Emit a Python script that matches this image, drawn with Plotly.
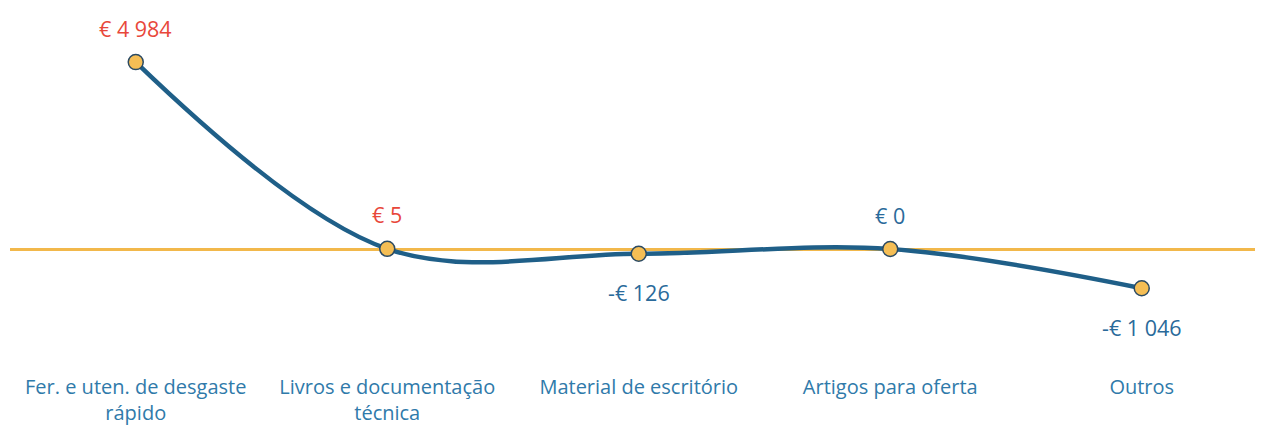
import plotly.graph_objects as go

categories = ["Fer. e uten. de desgaste<br>rápido", "Livros e documentação<br>técnica",
              "Material de escritório", "Artigos para oferta", "Outros"]
values = [4984, 5, -126, 0, -1046]
value_labels = ["€ 4 984", "€ 5", "-€ 126", "€ 0", "-€ 1 046"]
label_colors = ["#E8473A", "#E8473A", "#2A6A9A", "#2A6A9A", "#2A6A9A"]
label_above = [True, True, False, True, False]

FONT = "Open Sans, Lato, sans-serif"

fig = go.Figure()
fig.add_trace(go.Scatter(
    x=list(range(len(categories))), y=values, mode="lines+markers",
    line=dict(color="#1F5F88", width=4.5, shape="spline", smoothing=1.0),
    marker=dict(size=15, color="#F5BE55", line=dict(color="#2B4A63", width=1.5)),
    hoverinfo="skip", showlegend=False,
))

for i, (v, t, c, up) in enumerate(zip(values, value_labels, label_colors, label_above)):
    fig.add_annotation(x=i, y=v, text=t, showarrow=False,
                       yshift=34 if up else -39,
                       font=dict(family=FONT, size=21.5, color=c))

fig.update_layout(
    width=1263, height=425,
    margin=dict(l=2, r=0, t=0, b=60),
    paper_bgcolor="white", plot_bgcolor="white",
    xaxis=dict(range=[-0.5, 4.514], tickmode="array", tickvals=list(range(len(categories))),
               ticktext=categories, showgrid=False, zeroline=False, showline=False,
               tickfont=dict(family=FONT, size=20, color="#2F7AAA")),
    yaxis=dict(range=[-3307, 6427], showgrid=False, showticklabels=False,
               zeroline=True, zerolinecolor="#F2B84B", zerolinewidth=2.5, showline=False),
)
fig.write_html("out.html")
